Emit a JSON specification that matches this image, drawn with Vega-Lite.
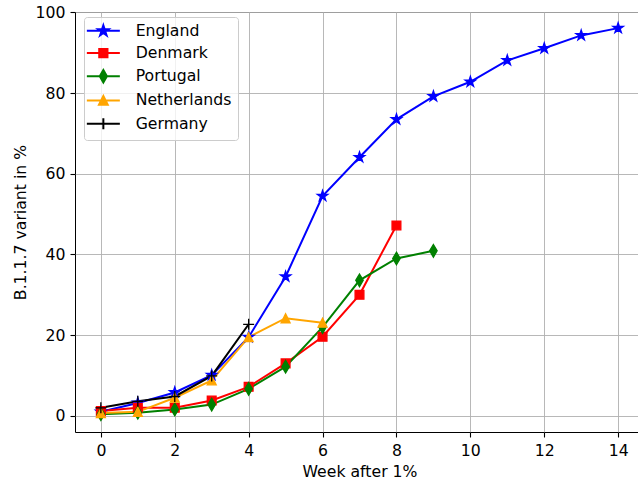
{
  "$schema": "https://vega.github.io/schema/vega-lite/v6.json",
  "width": 569,
  "height": 420,
  "autosize": {"type": "none"},
  "padding": {"left": 75, "top": 12, "right": 0, "bottom": 48},
  "background": "white",
  "data": {
    "values": [
      {"c": "England", "w": 0, "v": 1.0},
      {"c": "England", "w": 1, "v": 3.2},
      {"c": "England", "w": 2, "v": 5.8},
      {"c": "England", "w": 3, "v": 10.1},
      {"c": "England", "w": 4, "v": 19.5},
      {"c": "England", "w": 5, "v": 34.5},
      {"c": "England", "w": 6, "v": 54.5},
      {"c": "England", "w": 7, "v": 64.1},
      {"c": "England", "w": 8, "v": 73.5},
      {"c": "England", "w": 9, "v": 79.2},
      {"c": "England", "w": 10, "v": 82.8},
      {"c": "England", "w": 11, "v": 88.1},
      {"c": "England", "w": 12, "v": 91.1},
      {"c": "England", "w": 13, "v": 94.3},
      {"c": "England", "w": 14, "v": 96.1},
      {"c": "Denmark", "w": 0, "v": 1.2},
      {"c": "Denmark", "w": 1, "v": 2.0},
      {"c": "Denmark", "w": 2, "v": 2.0},
      {"c": "Denmark", "w": 3, "v": 3.8},
      {"c": "Denmark", "w": 4, "v": 7.2},
      {"c": "Denmark", "w": 5, "v": 13.0},
      {"c": "Denmark", "w": 6, "v": 19.6},
      {"c": "Denmark", "w": 7, "v": 30.0},
      {"c": "Denmark", "w": 8, "v": 47.2},
      {"c": "Portugal", "w": 0, "v": 0.4},
      {"c": "Portugal", "w": 1, "v": 0.8},
      {"c": "Portugal", "w": 2, "v": 1.6},
      {"c": "Portugal", "w": 3, "v": 2.8},
      {"c": "Portugal", "w": 4, "v": 6.7},
      {"c": "Portugal", "w": 5, "v": 12.2},
      {"c": "Portugal", "w": 6, "v": 22.0},
      {"c": "Portugal", "w": 7, "v": 33.6},
      {"c": "Portugal", "w": 8, "v": 39.0},
      {"c": "Portugal", "w": 9, "v": 40.9},
      {"c": "Netherlands", "w": 0, "v": 0.7},
      {"c": "Netherlands", "w": 1, "v": 1.0},
      {"c": "Netherlands", "w": 2, "v": 4.5},
      {"c": "Netherlands", "w": 3, "v": 8.8},
      {"c": "Netherlands", "w": 4, "v": 19.5},
      {"c": "Netherlands", "w": 5, "v": 24.2},
      {"c": "Netherlands", "w": 6, "v": 23.1},
      {"c": "Germany", "w": 0, "v": 2.0},
      {"c": "Germany", "w": 1, "v": 3.6},
      {"c": "Germany", "w": 2, "v": 4.8},
      {"c": "Germany", "w": 3, "v": 9.9},
      {"c": "Germany", "w": 4, "v": 22.7}
    ]
  },
  "encoding": {
    "x": {
      "field": "w", "type": "quantitative",
      "scale": {"domain": [-0.7, 14.7], "nice": false, "zero": false},
      "axis": {"values": [0, 2, 4, 6, 8, 10, 12, 14], "title": "Week after 1%", "titlePadding": 7, "labelPadding": 6}
    },
    "y": {
      "field": "v", "type": "quantitative",
      "scale": {"domain": [-4.0, 100.1], "nice": false, "zero": false},
      "axis": {"values": [0, 20, 40, 60, 80, 100], "title": "B.1.1.7 variant in %", "titlePadding": 7}
    }
  },
  "layer": [
    {
      "mark": {"type": "line", "strokeWidth": 2},
      "encoding": {
        "color": {
          "field": "c", "type": "nominal", "legend": null,
          "scale": {"domain": ["England", "Denmark", "Portugal", "Netherlands", "Germany"],
                    "range": ["#0000ff", "#ff0000", "#008000", "#ffa500", "#000000"]}
        }
      }
    },
    {
      "mark": {"type": "point", "size": 121, "opacity": 1, "strokeWidth": 1.3, "filled": true},
      "encoding": {
        "fill": {
          "field": "c", "type": "nominal", "legend": null,
          "scale": {"domain": ["England", "Denmark", "Portugal", "Netherlands", "Germany"],
                    "range": ["#0000ff", "#ff0000", "#008000", "#ffa500", "#000000"]}
        },
        "stroke": {
          "field": "c", "type": "nominal", "legend": null,
          "scale": {"domain": ["England", "Denmark", "Portugal", "Netherlands", "Germany"],
                    "range": ["#0000ff", "#ff0000", "#008000", "#ffa500", "#000000"]}
        },
        "shape": {
          "field": "c", "type": "nominal", "legend": null,
          "scale": {"domain": ["England", "Denmark", "Portugal", "Netherlands", "Germany"],
                    "range": [
                      "M0,-1L0.2245,-0.309L0.951,-0.309L0.363,0.118L0.588,0.809L0,0.382L-0.588,0.809L-0.363,0.118L-0.951,-0.309L-0.2245,-0.309Z",
                      "M-0.8,-0.8H0.8V0.8H-0.8Z",
                      "M0,-1.15L0.68,0L0,1.15L-0.68,0Z",
                      "M0,-0.82L0.82,0.82L-0.82,0.82Z",
                      "M-1,0H1M0,-1V1"
                    ]}
        }
      }
    },
    {
      "mark": {"type": "point", "size": 121, "opacity": 0, "strokeWidth": 2, "filled": true},
      "encoding": {
        "fill": {
          "field": "c", "type": "nominal",
          "scale": {"domain": ["England", "Denmark", "Portugal", "Netherlands", "Germany"],
                    "range": ["#0000ff", "#ff0000", "#008000", "#ffa500", "#000000"]},
          "legend": {"title": null, "encode": {"symbols": {"update": {"fill": {"scale": "layer_2_fill", "field": "value"}, "fillOpacity": {"value": 1}}}}}
        },
        "stroke": {
          "field": "c", "type": "nominal",
          "scale": {"domain": ["England", "Denmark", "Portugal", "Netherlands", "Germany"],
                    "range": ["#0000ff", "#ff0000", "#008000", "#ffa500", "#000000"]},
          "legend": {"title": null}
        },
        "shape": {
          "field": "c", "type": "nominal",
          "scale": {"domain": ["England", "Denmark", "Portugal", "Netherlands", "Germany"],
                    "range": [
                      "M-2,0H4M1,-1L1.2245,-0.309L1.951,-0.309L1.363,0.118L1.588,0.809L1,0.382L0.412,0.809L0.637,0.118L0.049,-0.309L0.7755,-0.309Z",
                      "M-2,0H4M0.25,-0.75H1.75V0.75H0.25Z",
                      "M-2,0H4M1,-1.15L1.65,0L1,1.15L0.35,0Z",
                      "M-2,0H4M1,-0.8L1.8,0.8L0.2,0.8Z",
                      "M-2,0H4M0,0H2M1,-1V1"
                    ]},
          "legend": {"title": null}
        }
      }
    }
  ],
  "resolve": {"scale": {"color": "independent", "fill": "independent", "stroke": "independent", "shape": "independent"}},
  "config": {
    "view": {"stroke": "black", "strokeWidth": 1},
    "font": "DejaVu Sans",
    "axis": {
      "domain": false,
      "grid": true,
      "gridColor": "#b0b0b0",
      "gridWidth": 0.9,
      "tickColor": "black",
      "tickSize": 5,
      "tickWidth": 1.1,
      "labelFont": "DejaVu Sans",
      "labelFontSize": 15.7,
      "labelColor": "black",
      "labelPadding": 5,
      "titleFont": "DejaVu Sans",
      "titleFontSize": 15.7,
      "titleFontWeight": "normal",
      "titleColor": "black"
    },
    "legend": {
      "orient": "none",
      "legendX": 9,
      "legendY": 5,
      "padding": 6,
      "strokeColor": "#cccccc",
      "fillColor": "rgba(255,255,255,0.8)",
      "cornerRadius": 3,
      "symbolSize": 121,
      "symbolStrokeWidth": 2,
      "labelFont": "DejaVu Sans",
      "labelFontSize": 15.7,
      "labelColor": "black",
      "labelOffset": 30,
      "rowPadding": 4.2
    }
  }
}
